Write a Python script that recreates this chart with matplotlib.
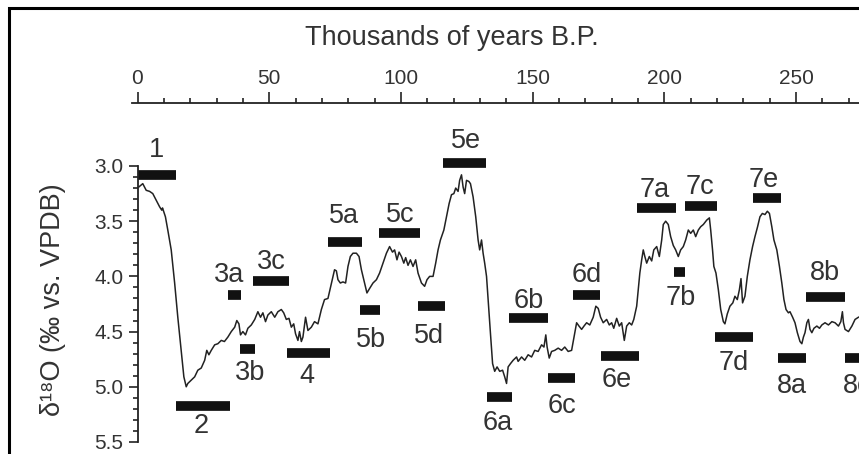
import matplotlib
matplotlib.use('Agg')
import matplotlib.pyplot as plt
from matplotlib.patches import Rectangle
from matplotlib.ticker import FixedLocator, MultipleLocator
import numpy as np

plt.rcParams['font.family'] = ['Liberation Sans', 'DejaVu Sans']

############################ 数据 ##################################
# 年龄 (千年 B.P.) 和 δ18O 值
age_kyr = [
    0.5, 2.0, 3.3, 4.6, 5.8, 7.1, 8.4, 9.2, 9.5, 10.6, 11.5, 12.8, 14.1, 15.3, 16.6, 17.6,
    18.5, 19.1, 20.4, 21.7, 22.9, 24.2, 25.5, 26.3, 27.1, 28.0, 29.3, 30.5, 31.8, 33.0,
    34.3, 35.6, 36.9, 37.7, 38.5, 39.1, 40.0, 41.0, 41.9, 43.2, 44.5, 45.7, 46.7, 47.6,
    48.6, 49.5, 50.8, 52.1, 53.3, 54.6, 55.5, 56.5, 57.5, 58.4, 59.3, 60.0, 60.9, 61.5,
    62.2, 62.8, 63.8, 64.7, 66.0, 67.2, 68.5, 69.8, 71.0, 72.3, 74.2, 74.8, 75.5, 76.1,
    77.0, 78.0, 79.0, 79.9, 80.8, 81.8, 83.1, 84.1, 85.0, 86.2, 87.1, 88.1, 89.4, 90.7,
    91.9, 93.2, 94.5, 95.7, 96.8, 97.6, 98.5, 99.3, 100.2, 101.1, 101.8, 102.7, 103.6,
    104.6, 105.6, 106.5, 107.8, 109.0, 109.9, 110.9, 112.2, 113.2, 114.1, 115.0, 116.3,
    117.3, 118.3, 119.2, 120.1, 120.8, 121.7, 122.3, 123.0, 123.6, 124.2, 124.9, 125.8,
    126.4, 127.4, 128.4, 129.3, 129.9, 130.6, 131.2, 131.8, 132.5, 133.1, 134.0, 134.8,
    135.6, 136.5, 137.5, 138.6, 139.4, 140.1, 140.7, 141.6, 142.6, 143.9, 144.5, 145.8,
    147.0, 148.3, 149.6, 150.8, 152.1, 153.4, 154.3, 155.0, 155.5, 156.3, 157.2, 158.4,
    159.7, 161.0, 162.2, 163.5, 164.8, 165.7, 166.7, 167.6, 168.6, 169.5, 170.5, 171.7,
    173.0, 174.0, 174.9, 175.8, 176.8, 178.1, 179.1, 180.0, 180.8, 181.9, 182.9, 183.8,
    184.8, 185.7, 186.7, 187.6, 188.4, 189.5, 190.1, 190.7, 191.4, 192.0, 192.6, 193.3,
    194.3, 195.2, 196.0, 197.1, 198.1, 199.0, 199.6, 200.5, 201.5, 202.4, 203.4, 204.3,
    205.3, 206.2, 207.2, 208.1, 209.1, 210.0, 211.0, 211.9, 212.9, 213.8, 214.8, 216.1,
    217.1, 217.6, 218.3, 218.8, 219.6, 220.5, 221.4, 222.4, 223.0, 223.9, 224.9, 226.0,
    226.8, 227.7, 228.5, 229.1, 229.7, 230.6, 231.5, 232.5, 233.5, 234.4, 235.4, 236.3,
    237.2, 238.2, 239.1, 239.9, 240.8, 241.6, 242.7, 243.7, 244.6, 245.4, 246.2, 247.1,
    247.7, 248.7, 249.6, 250.5, 251.5, 252.2, 252.8, 253.4, 254.1, 254.7, 255.3, 256.0,
    256.8, 257.9, 258.9, 259.8, 261.0, 262.3, 263.6, 264.8, 266.1, 267.0, 267.6, 268.0,
    268.6, 269.9, 271.2, 272.4, 273.7,
]
d18o = [
    3.19, 3.16, 3.22, 3.23, 3.25, 3.31, 3.37, 3.40, 3.38, 3.46, 3.58, 3.76, 4.06, 4.37, 4.67, 4.91,
    5.00, 4.97, 4.94, 4.91, 4.85, 4.83, 4.76, 4.67, 4.71, 4.67, 4.62, 4.61, 4.58, 4.59,
    4.55, 4.50, 4.46, 4.40, 4.43, 4.53, 4.50, 4.53, 4.47, 4.44, 4.39, 4.32, 4.37, 4.33,
    4.41, 4.35, 4.32, 4.37, 4.32, 4.30, 4.33, 4.39, 4.38, 4.46, 4.43, 4.52, 4.58, 4.50,
    4.59, 4.55, 4.37, 4.49, 4.46, 4.41, 4.43, 4.30, 4.21, 4.20, 4.00, 3.94, 3.95, 4.03,
    4.06, 4.05, 4.06, 3.91, 3.82, 3.79, 3.79, 3.82, 3.94, 4.06, 4.15, 4.11, 4.06, 4.03,
    3.97, 3.88, 3.79, 3.73, 3.78, 3.76, 3.85, 3.78, 3.82, 3.88, 3.83, 3.90, 3.85,
    3.91, 3.85, 3.97, 4.06, 4.09, 4.03, 4.00, 4.00, 3.88, 3.76, 3.67, 3.58,
    3.46, 3.34, 3.26, 3.25, 3.20, 3.23, 3.13, 3.08, 3.19, 3.25, 3.13, 3.14,
    3.16, 3.28, 3.46, 3.67, 3.76, 3.67, 3.79, 3.88, 4.00, 4.21, 4.52, 4.79,
    4.86, 4.82, 4.86, 4.85, 4.91, 4.97, 4.82, 4.79, 4.76, 4.73, 4.77, 4.73,
    4.76, 4.71, 4.73, 4.67, 4.68, 4.62, 4.64, 4.53, 4.64, 4.74, 4.68, 4.67,
    4.65, 4.67, 4.64, 4.68, 4.67, 4.55, 4.42, 4.45, 4.48, 4.45, 4.42, 4.44,
    4.37, 4.27, 4.29, 4.37, 4.42, 4.39, 4.44, 4.42, 4.47, 4.38, 4.45, 4.42,
    4.58, 4.45, 4.42, 4.44, 4.39, 4.27, 4.12, 3.97, 3.85, 3.76, 3.82, 3.88,
    3.82, 3.86, 3.76, 3.73, 3.82, 3.67, 3.53, 3.50, 3.53, 3.64, 3.72, 3.76,
    3.82, 3.76, 3.73, 3.67, 3.58, 3.61, 3.58, 3.64, 3.58, 3.55, 3.53, 3.49,
    3.47, 3.58, 3.76, 3.91, 3.97, 4.12, 4.30, 4.41, 4.43, 4.34, 4.27, 4.24,
    4.18, 4.21, 4.12, 4.02, 4.24, 4.18, 4.00, 3.85, 3.73, 3.64, 3.55, 3.46,
    3.43, 3.44, 3.41, 3.43, 3.55, 3.67, 3.76, 3.91, 4.06, 4.21, 4.30, 4.33,
    4.32, 4.37, 4.42, 4.51, 4.59, 4.61, 4.55, 4.51, 4.42, 4.39, 4.48, 4.51,
    4.47, 4.45, 4.47, 4.44, 4.42, 4.44, 4.41, 4.42, 4.45, 4.41, 4.32, 4.42,
    4.48, 4.50, 4.45, 4.39, 4.37,
]

# 同位素阶段: 名称, 起止年龄, 所在 δ18O 位置
stage_names = ['1', '2', '3a', '3b', '3c', '4', '5a', '5b', '5c', '5d', '5e', '6a',
               '6b', '6c', '6d', '6e', '7a', '7b', '7c', '7d', '7e', '8a', '8b', '8c']
stage_start = [0.0, 14.7, 34.3, 38.8, 43.8, 56.7, 72.3, 84.6, 91.6, 106.3, 115.8, 132.5,
               141.1, 155.9, 165.4, 175.8, 189.7, 203.6, 207.8, 219.2, 233.5, 243.3, 253.8, 268.6]
stage_end = [14.7, 35.0, 39.4, 44.5, 57.5, 73.2, 85.3, 92.2, 107.1, 116.6, 132.2, 142.0,
             155.7, 166.0, 175.5, 190.4, 204.3, 207.8, 219.9, 233.8, 244.2, 253.8, 268.6, 278.0]
stage_level = [3.08, 5.17, 4.17, 4.66, 4.04, 4.69, 3.69, 4.30, 3.61, 4.27, 2.97, 5.09,
               4.38, 4.92, 4.17, 4.72, 3.38, 3.96, 3.36, 4.55, 3.29, 4.74, 4.19, 4.74]
# 标签位置 (x: 年龄, y: 基线处的 δ18O)
label_x = [7.3, 24.2, 34.6, 42.9, 50.8, 64.3, 78.3, 88.5, 99.9, 110.5, 124.8, 136.6,
           148.6, 161.0, 170.5, 181.9, 196.4, 206.2, 213.5, 226.2, 237.6, 248.6, 261.0, 273.3]
label_y = [2.92, 5.42, 4.05, 4.94, 3.93, 4.97, 3.52, 4.64, 3.51, 4.60, 2.84, 5.39,
           4.29, 5.24, 4.05, 5.00, 3.28, 4.26, 3.25, 4.85, 3.19, 5.06, 4.03, 5.06]

x_ticks = [0, 50, 100, 150, 200, 250]
y_ticks = [3.0, 3.5, 4.0, 4.5, 5.0, 5.5]

text_color = '#333333'
line_color = '#222222'

############################ 绘图 ##################################
fig = plt.figure(figsize=(8.59, 4.54), dpi=100)
ax = fig.add_axes([137.5 / 859, 0, 721.5 / 859, 350.7 / 454])

# 曲线
ax.plot(age_kyr, d18o, color=line_color, linewidth=1.1)

# 阶段横条
ax.hlines(stage_level, stage_start, stage_end, colors='#111111', linewidth=7, capstyle='butt')
for name, x, y in zip(stage_names, label_x, label_y):
    ax.text(x, y, name, ha='center', va='baseline', fontsize=19.5, color=text_color, clip_on=False)

# 坐标轴范围
ax.set_xlim(0, 273.9)
ax.set_ylim(5.609, 2.432)

# 只保留顶部和左侧坐标轴
ax.spines['right'].set_visible(False)
ax.spines['bottom'].set_visible(False)
ax.spines['left'].set_bounds(3.0, 5.5)
ax.spines['top'].set_bounds(-2, 273.9)
for s in ('left', 'top'):
    ax.spines[s].set_linewidth(1.3)
    ax.spines[s].set_color(line_color)

ax.xaxis.tick_top()
ax.set_xticks(x_ticks)
ax.xaxis.set_minor_locator(MultipleLocator(10))
ax.yaxis.set_major_locator(FixedLocator(y_ticks))
ax.yaxis.set_minor_locator(FixedLocator(np.arange(3.0, 5.51, 0.1)))
ax.set_yticklabels([f'{v:.1f}' for v in y_ticks])

ax.tick_params(axis='x', which='major', direction='out', length=8, width=1.2,
               labelsize=15, pad=3, colors=line_color, labelcolor=text_color)
ax.tick_params(axis='x', which='minor', direction='out', length=3.6, width=1.2, colors=line_color)
ax.tick_params(axis='y', which='major', direction='out', length=6.5, width=1.2,
               labelsize=15, pad=3.5, colors=line_color, labelcolor=text_color)
ax.tick_params(axis='y', which='minor', direction='out', length=3.5, width=1.2, colors=line_color)

# 轴标题
fig.text(452 / 859, 1 - 45 / 454, 'Thousands of years B.P.', ha='center', va='baseline',
         fontsize=19.5, color=text_color)
fig.text(53 / 859, 1 - 300 / 454, 'δ¹⁸O (‰ vs. VPDB)', rotation=90, ha='center', va='center',
         fontsize=19.5, color=text_color)

# 外框
fig.patches.append(Rectangle((8.5 / 859, -0.2), 1.0, 1.2 - 7.5 / 454, transform=fig.transFigure,
                             fill=False, linewidth=2.2, edgecolor='black'))

plt.savefig('out.png', dpi=100)
